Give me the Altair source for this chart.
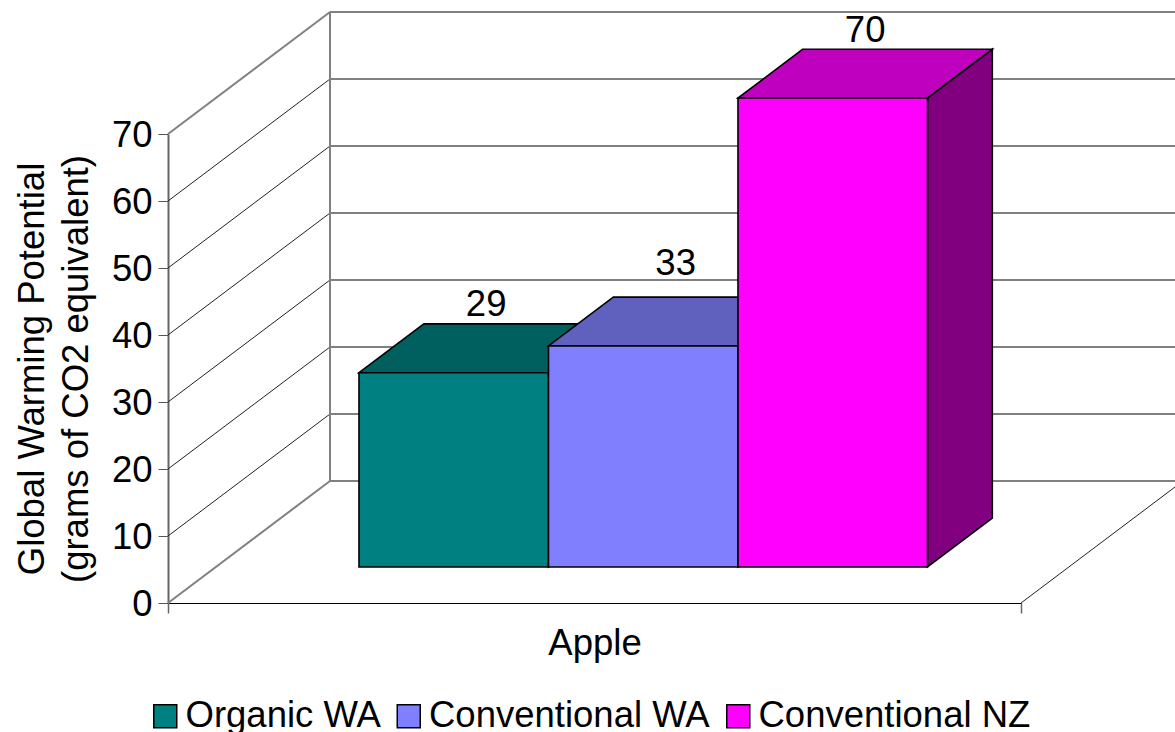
import altair as alt
import pandas as pd

# Chart values
SERIES = ["Organic WA", "Conventional WA", "Conventional NZ"]
VALUES = [29, 33, 70]
CATEGORY = "Apple"
TICKS = [0, 10, 20, 30, 40, 50, 60, 70]
Y_TITLE = ["Global Warming Potential", "(grams of CO2 equivalent)"]

# Face colours of the three bars
FRONT = ["#008080", "#8080FF", "#FF00FF"]
TOP = ["#006060", "#6060BF", "#BF00BF"]
SIDE = ["#004040", "#404080", "#800080"]

# Oblique projection of the box: depth 0 is the front of the floor, 1 the back wall
FLOOR_W = 853.0
WALL_DX = 162.0
WALL_DV = 18.21
BAR_W = 189.5
BAR_X0 = 143.2
BAR_D0, BAR_D1 = 0.295, 0.695
LABEL_LIFT = [15.55, 17.65, 15.3]

FONT = "Liberation Sans"
FS = 36.5


def proj(x, v, d):
    return x + WALL_DX * d, v + WALL_DV * d


x_scale = alt.Scale(domain=[0, FLOOR_W], nice=False, zero=False)
y_scale = alt.Scale(domain=[0, 70], nice=False, zero=False)
x_axis = alt.Axis(
    values=[0, FLOOR_W], labels=False, grid=False, title=CATEGORY,
    titleFont=FONT, titleFontSize=FS, titleFontWeight="normal", titleColor="black",
    titlePadding=12, tickSize=10, tickColor="#666666", tickWidth=1.5,
    domainColor="black", domainWidth=1,
)
y_axis = alt.Axis(
    values=TICKS, grid=False, title=Y_TITLE, format="d",
    labelFont=FONT, labelFontSize=FS, labelColor="black", labelPadding=6, labelOffset=1.5,
    titleFont=FONT, titleFontSize=FS, titleFontWeight="normal", titleColor="black",
    titlePadding=16, titleLineHeight=44, tickSize=10, tickColor="#555555", tickWidth=1,
    domainColor="#666666", domainWidth=2,
)


def X(field="x"):
    return alt.X(f"{field}:Q", scale=x_scale, axis=x_axis)


def Y(field="y"):
    return alt.Y(f"{field}:Q", scale=y_scale, axis=y_axis)


def segment(p, q):
    return {"x": p[0], "y": p[1], "x2": q[0], "y2": q[1]}


top_v = TICKS[-1]
wall_lines = []     # heavy grey edges and back-wall gridlines
thin_lines = []     # side-wall gridlines and the right edge of the floor
for t in TICKS:
    front = proj(0, t, 0)
    back = proj(0, t, 1)
    far = proj(FLOOR_W, t, 1)
    wall_lines.append(segment(back, far))
    if t in (TICKS[0], top_v):
        wall_lines.append(segment(front, back))
    else:
        thin_lines.append(segment(front, back))
wall_lines.append(segment(proj(0, 0, 1), proj(0, top_v, 1)))
thin_lines.append(segment(proj(FLOOR_W, 0, 0), proj(FLOOR_W, 0, 1)))


def rule_layer(rows, color, width):
    return alt.Chart(pd.DataFrame(rows)).mark_rule(color=color, strokeWidth=width).encode(
        x=X(), x2="x2:Q", y=Y(), y2="y2:Q"
    )


layers = [rule_layer(thin_lines, "#222222", 1), rule_layer(wall_lines, "#808080", 2)]

color_scale = alt.Scale(domain=SERIES, range=FRONT)
legend = alt.Legend(
    orient="none", legendX=-21, legendY=564, direction="horizontal", columns=3,
    title=None, gridAlign="none", symbolType="square", symbolSize=529,
    symbolStrokeColor="black", symbolStrokeWidth=1.5,
    labelFont=FONT, labelFontSize=FS, labelColor="black", labelOffset=2,
    columnPadding=9.5, labelLimit=500,
)

EDGE = dict(stroke="black", strokeWidth=1.6)
for i, (name, value) in enumerate(zip(SERIES, VALUES)):
    left = BAR_X0 + BAR_W * i
    right = left + BAR_W

    # Right-hand face
    s0, s0_top = proj(right, value, BAR_D0)
    s1, s1_top = proj(right, value, BAR_D1)
    side = pd.DataFrame({
        "x": [s0, s1],
        "y": [s0_top, s1_top],
        "y2": [proj(right, 0, BAR_D0)[1], proj(right, 0, BAR_D1)[1]],
    })
    layers.append(
        alt.Chart(side).mark_area(fill=SIDE[i], **EDGE).encode(x=X(), y=Y(), y2="y2:Q")
    )

    # Top face
    top = pd.DataFrame({
        "y": [proj(left, value, BAR_D0)[1], proj(left, value, BAR_D1)[1]],
        "x": [proj(left, value, BAR_D0)[0], proj(left, value, BAR_D1)[0]],
        "x2": [proj(right, value, BAR_D0)[0], proj(right, value, BAR_D1)[0]],
    })
    layers.append(
        alt.Chart(top).mark_area(orient="horizontal", fill=TOP[i], **EDGE).encode(
            y=Y(), x=X(), x2="x2:Q"
        )
    )

    # Front face, which also feeds the legend
    front = pd.DataFrame({
        "series": [name],
        "x": [proj(left, value, BAR_D0)[0]],
        "x2": [proj(right, value, BAR_D0)[0]],
        "y": [proj(left, value, BAR_D0)[1]],
        "y2": [proj(left, 0, BAR_D0)[1]],
    })
    layers.append(
        alt.Chart(front).mark_rect(**EDGE).encode(
            x=X(), x2="x2:Q", y=Y(), y2="y2:Q",
            color=alt.Color("series:N", scale=color_scale, legend=legend),
        )
    )

# Value labels above each box
label_rows = []
for i, value in enumerate(VALUES):
    left = BAR_X0 + BAR_W * i
    centre = left + BAR_W / 2 + WALL_DX * (BAR_D0 + BAR_D1) / 2
    label_rows.append({"x": centre, "y": value + LABEL_LIFT[i], "label": str(value)})
layers.append(
    alt.Chart(pd.DataFrame(label_rows)).mark_text(
        font=FONT, fontSize=FS, color="black", baseline="middle", align="center"
    ).encode(x=X(), y=Y(), text="label:N")
)

chart = alt.layer(*layers).resolve_scale(color="shared").properties(
    width=FLOOR_W,
    height=469,
    padding={"left": 168, "top": 134, "right": 154, "bottom": 129},
    autosize=alt.AutoSizeParams(type="none"),
    background="white",
).configure_view(stroke=None)

chart.save("out.html", embed_options={"renderer": "svg", "actions": False})
